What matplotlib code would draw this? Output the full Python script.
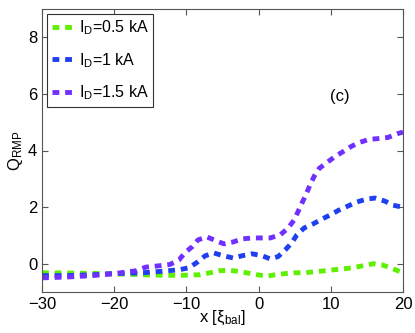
import matplotlib
matplotlib.use("Agg")
import matplotlib.pyplot as plt

plt.rcParams['font.family'] = ['Liberation Sans', 'DejaVu Sans']
plt.rcParams['mathtext.fontset'] = 'custom'
plt.rcParams['mathtext.rm'] = 'Liberation Sans'
plt.rcParams['mathtext.it'] = 'Liberation Sans'

# I_D = 0.5 kA
x_05 = [-30, -26.5, -23, -20, -16, -13, -10.6, -8.1, -6.9, -5.5, -4.1, -2.9, -1.5, -0.2, 1.2,
        2.3, 3.7, 5.1, 6.4, 7.8, 9.2, 10.6, 11.8, 13.1, 14.5, 15.9, 17.1, 18.2, 19.6, 20]
q_05 = [-0.32, -0.33, -0.34, -0.36, -0.39, -0.41, -0.41, -0.39, -0.33, -0.25, -0.23, -0.27, -0.33, -0.39, -0.44,
        -0.39, -0.35, -0.32, -0.32, -0.28, -0.25, -0.21, -0.18, -0.14, -0.07, 0.0, -0.04, -0.14, -0.28, -0.3]

# I_D = 1 kA
x_1 = [-30, -26.5, -23, -20, -16, -13, -10.9, -9.6, -8.4, -7.4, -6.2, -4.9, -3.5, -2.3, -0.9, 0.5, 1.6,
       2.7, 3.7, 4.6, 5.3, 6.3, 7.5, 8.8, 9.9, 11.1, 12.4, 13.6, 14.9, 16.1, 17.5, 18.6, 20]
q_1 = [-0.42, -0.42, -0.39, -0.35, -0.32, -0.26, -0.21, -0.14, 0.07, 0.28, 0.38, 0.28, 0.2, 0.28, 0.35, 0.28, 0.17,
       0.25, 0.49, 0.74, 1.02, 1.26, 1.4, 1.58, 1.72, 1.89, 2.04, 2.18, 2.28, 2.32, 2.21, 2.07, 1.99]

# I_D = 1.5 kA
x_15 = [-30, -26.5, -23, -20, -17, -15.6, -14, -12.3, -11, -10.2, -9.2, -8.4, -7.2, -5.9, -4.8, -3.5, -2.2,
        -0.8, 0.5, 1.6, 3.0, 4.1, 4.9, 5.5, 6.0, 6.6, 7.1, 7.7, 8.4, 9.5, 10.6, 11.7, 12.8, 13.9, 15.3,
        16.5, 17.9, 19.3, 20]
q_15 = [-0.5, -0.47, -0.42, -0.35, -0.25, -0.12, -0.08, -0.03, 0.14, 0.39, 0.6, 0.84, 0.95, 0.81, 0.7, 0.77, 0.88,
        0.91, 0.91, 0.91, 1.02, 1.26, 1.54, 1.86, 2.14, 2.46, 2.77, 3.09, 3.37, 3.58, 3.79, 3.96, 4.14, 4.28, 4.39,
        4.42, 4.46, 4.6, 4.65]

labels = ['$\\mathregular{I_D}$=0.5 kA', '$\\mathregular{I_D}$=1 kA', '$\\mathregular{I_D}$=1.5 kA']
colors = ['#5ef000', '#2040f0', '#7030ff']

fig = plt.figure(figsize=(4.15, 3.33), dpi=100)
ax = fig.add_axes([42 / 415, 41 / 333, 361 / 415, 283 / 333])

for xs, qs, lab, col in zip([x_05, x_1, x_15], [q_05, q_1, q_15], labels, colors):
    ax.plot(xs, qs, color=col, lw=3.5, dashes=(1.4, 1.2), label=lab)

ax.set_xlim(-30, 20)
ax.set_ylim(-1, 9)
ax.set_xticks([-30, -20, -10, 0, 10, 20])
ax.set_yticks([0, 2, 4, 6, 8])
ax.set_xticklabels(['\u221230', '\u221220', '\u221210', '0', '10', '20'])
ax.tick_params(direction='in', top=True, right=True, labelsize=12, length=4, color='#555555')
for s in ax.spines.values():
    s.set_color('#555555')

ax.set_xlabel('x [$\\mathregular{\\xi_{bal}}$]', fontsize=12, labelpad=-2)
ax.set_ylabel('$\\mathregular{Q_{RMP}}$', fontsize=12, labelpad=2)
ax.text(11.3, 5.9, '(c)', fontsize=12, ha='center', va='center')

leg = ax.legend(loc='upper left', fontsize=11.5, handlelength=1.5, handletextpad=0.2,
                borderaxespad=0.3, borderpad=0.3, labelspacing=0.85, fancybox=False,
                framealpha=1)
leg.get_frame().set_edgecolor('#333333')
leg.get_frame().set_linewidth(0.8)

fig.savefig('out.png', dpi=100)
